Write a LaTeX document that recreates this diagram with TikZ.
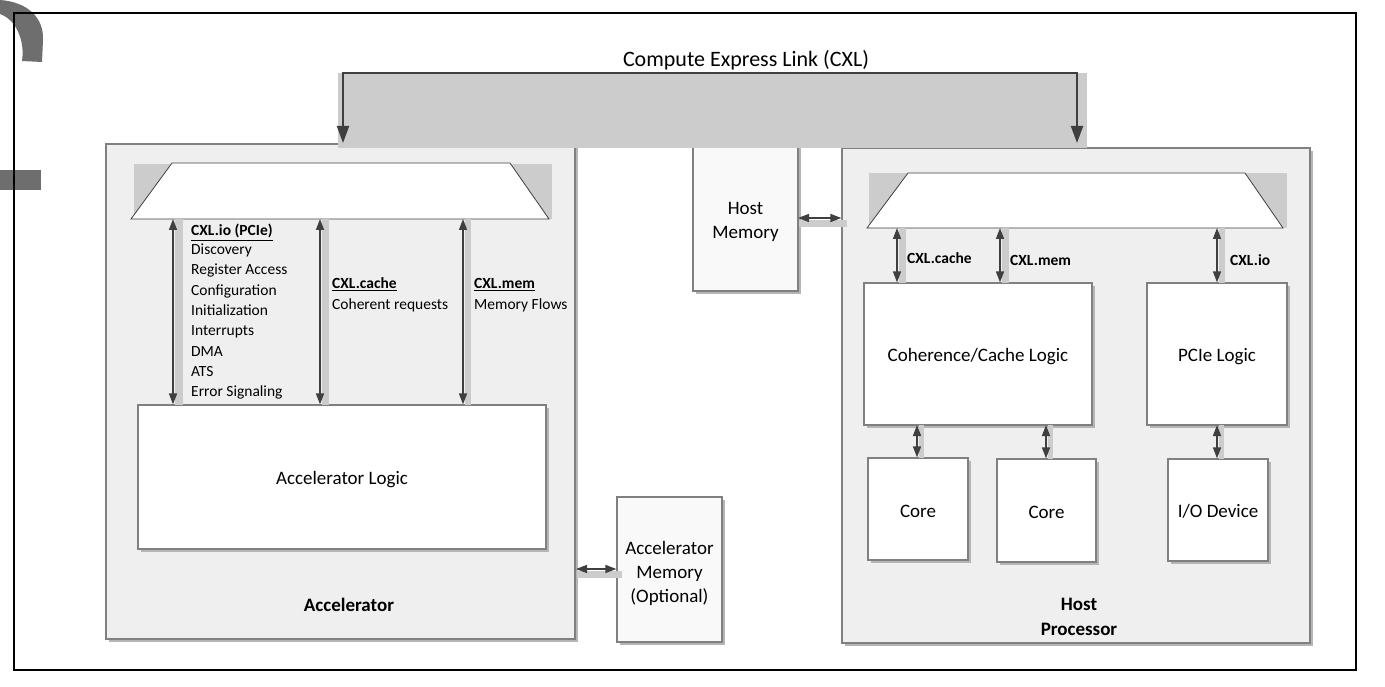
\documentclass[tikz,border=0pt]{standalone}
\usepackage{fontspec}
\setmainfont{Carlito}
\usetikzlibrary{arrows.meta,shadows}
\definecolor{bandgray}{HTML}{CCCCCC}
\definecolor{panelgray}{HTML}{EFEFEF}
\definecolor{edgegray}{HTML}{808080}
\definecolor{arrowgray}{HTML}{3F3F3F}
\definecolor{decogray}{HTML}{6E6E6E}
\definecolor{shadegray}{HTML}{B5B5B5}
\newcommand\fsTitle{\fontsize{22}{26}\selectfont}
\newcommand\fsMain{\fontsize{19}{24}\selectfont}
\newcommand\fsBold{\fontsize{19}{25}\selectfont\bfseries}
\newcommand\fsList{\fontsize{15.5}{20}\selectfont}
\newcommand\fsSmall{\fontsize{15.5}{18}\selectfont\bfseries}
\newcommand\lowtext[2][3pt]{\raisebox{-#1}[\height][\depth]{\begin{tabular}{@{}c@{}}#2\end{tabular}}}
\begin{document}
\begin{tikzpicture}[x=1pt,y=-1pt,
  boxshadow/.style={drop shadow={shadow xshift=3pt,shadow yshift=-3pt,fill=shadegray,opacity=1}},
  panelbox/.style={draw=edgegray,line width=1.2pt,fill=panelgray,inner sep=0pt,boxshadow},
  whitebox/.style={draw=edgegray,line width=1.2pt,fill=white,inner sep=0pt,boxshadow,font=\fsMain,align=center},
  dblarrow/.style={draw=arrowgray,line width=1.5pt,{Triangle[length=11pt,width=8pt]}-{Triangle[length=11pt,width=8pt]}},
  bandarrow/.style={draw=arrowgray,line width=2pt,{Triangle[length=17pt,width=12pt]}-{Triangle[length=17pt,width=12pt]}},
  stripfill/.style={fill=bandgray},
  trapfill/.style={fill=white,draw=arrowgray,line width=0.8pt},
  lbl/.style={inner sep=0pt,anchor=base west},
]
\useasboundingbox (0,0) rectangle (1385,687);
\fill[white] (0,0) rectangle (1385,687);
% background decoration
\fill[decogray] (0,0) .. controls (28,2) and (44,18) .. (43,40) -- (42,62) -- (22,61) .. controls (25,42) and (17,20) .. (0,14) -- cycle;
\fill[decogray] (0,170) rectangle (41,190);
\draw[black,line width=2pt] (14,13) rectangle (1356,670);

% panels
\node[panelbox,minimum width=469pt,minimum height=495pt] (acc) at (340.5,391.5) {};
\node[panelbox,minimum width=468pt,minimum height=495pt] (hostp) at (1076,395.5) {};
\node[whitebox,fill=panelgray!40,minimum width=105pt,minimum height=146pt] (hostmem) at (745.5,218) {\lowtext[4pt]{Host\\Memory}};
\node[whitebox,fill=panelgray!40,minimum width=105pt,minimum height=145pt] (accmem) at (669.5,569.5) {\lowtext[4pt]{Accelerator\\Memory\\(Optional)}};

% CXL band
\fill[bandgray] (338,73) rectangle (1087,148);
\coordinate (cxlA) at (343,143);
\coordinate (cxlH) at (1077,143);
\draw[bandarrow] (cxlA) -- (343,73) -- (1077,73) -- (cxlH);
\node[font=\fsTitle,inner sep=0pt] (cxltitle) at (746,60) {Compute Express Link (CXL)};

% accelerator internals
\fill[bandgray] (134,164) rectangle (552,219);
\draw[trapfill] (131,219) -- (172,163) -- (510,163) -- (549,219) -- cycle;
\node[whitebox,minimum width=408pt,minimum height=144pt] (acclogic) at (342,477) {\lowtext{Accelerator Logic}};
\node[font=\fsBold,inner sep=0pt] (acclabel) at (349,605) {Accelerator};

\coordinate (a1t) at (173,219);
\coordinate (a2t) at (320,219);
\coordinate (a3t) at (463,219);
\fill[stripfill] (175,219) rectangle (183,405);
\fill[stripfill] (322,219) rectangle (329,405);
\fill[stripfill] (465,219) rectangle (471,405);
\draw[dblarrow] (a1t) -- (a1t |- acclogic.north);
\draw[dblarrow] (a2t) -- (a2t |- acclogic.north);
\draw[dblarrow] (a3t) -- (a3t |- acclogic.north);

\node[lbl,font=\fsList\bfseries] (io0) at (191,236) {\underline{CXL.io (PCIe)}};
\node[lbl,font=\fsList] (io1) at (191,255) {Discovery};
\node[lbl,font=\fsList] (io2) at (191,275) {Register Access};
\node[lbl,font=\fsList] (io3) at (191,296) {Configuration};
\node[lbl,font=\fsList] (io4) at (191,316) {Initialization};
\node[lbl,font=\fsList] (io5) at (191,335) {Interrupts};
\node[lbl,font=\fsList] (io6) at (191,356) {DMA};
\node[lbl,font=\fsList] (io7) at (191,376) {ATS};
\node[lbl,font=\fsList] (io8) at (191,396) {Error Signaling};
\node[lbl,font=\fsList\bfseries] (ca0) at (332,289) {\underline{CXL.cache}};
\node[lbl,font=\fsList] (ca1) at (332,309) {Coherent requests};
\node[lbl,font=\fsList\bfseries] (me0) at (474,289) {\underline{CXL.mem}};
\node[lbl,font=\fsList] (me1) at (474,309) {Memory Flows};

% accelerator <-> memory
\fill[stripfill] (577,571) rectangle (622,578);
\coordinate (m1) at (576,569);
\draw[dblarrow] (m1) -- (m1 -| accmem.west);

% host memory <-> host processor
\fill[stripfill] (799,220) rectangle (847,227);
\coordinate (m2) at (798,218);
\draw[dblarrow] (m2) -- (m2 -| hostp.west);

% host internals
\fill[bandgray] (869,173) rectangle (1287,228);
\draw[trapfill] (867,228) -- (908,173) -- (1245,173) -- (1283,228) -- cycle;
\node[whitebox,minimum width=228pt,minimum height=142pt] (coh) at (978,354) {\lowtext{Coherence/Cache Logic}};
\node[whitebox,minimum width=140pt,minimum height=142pt] (pcie) at (1217,354) {\lowtext{PCIe Logic}};
\node[whitebox,minimum width=100pt,minimum height=102pt] (core1) at (918,509) {\lowtext[4pt]{Core}};
\node[whitebox,minimum width=99pt,minimum height=103pt] (core2) at (1046.5,510.5) {\lowtext[3pt]{Core}};
\node[whitebox,minimum width=100pt,minimum height=102pt] (iodev) at (1218,510) {\lowtext[3pt]{I/O Device}};
\node[font=\fsBold,align=center,inner sep=0pt] (hplabel) at (1079,616.5) {Host\\Processor};

\coordinate (h1t) at (897,228);
\coordinate (h2t) at (1000,228);
\coordinate (h3t) at (1217,228);
\fill[stripfill] (899,228) rectangle (906,283);
\fill[stripfill] (1002,228) rectangle (1009,283);
\fill[stripfill] (1219,228) rectangle (1225,283);
\draw[dblarrow] (h1t) -- (h1t |- coh.north);
\draw[dblarrow] (h2t) -- (h2t |- coh.north);
\draw[dblarrow] (h3t) -- (h3t |- pcie.north);
\node[lbl,font=\fsSmall] (hl1) at (907,264) {CXL.cache};
\node[lbl,font=\fsSmall] (hl2) at (1010,266) {CXL.mem};
\node[lbl,font=\fsSmall] (hl3) at (1230,266) {CXL.io};

\coordinate (c1t) at (917,425);
\coordinate (c2t) at (1046,425);
\coordinate (c3t) at (1217,425);
\fill[stripfill] (919,425) rectangle (924,458);
\fill[stripfill] (1048,425) rectangle (1053,459);
\fill[stripfill] (1219,425) rectangle (1224,459);
\draw[dblarrow] (c1t) -- (c1t |- core1.north);
\draw[dblarrow] (c2t) -- (c2t |- core2.north);
\draw[dblarrow] (c3t) -- (c3t |- iodev.north);
\end{tikzpicture}
\end{document}
